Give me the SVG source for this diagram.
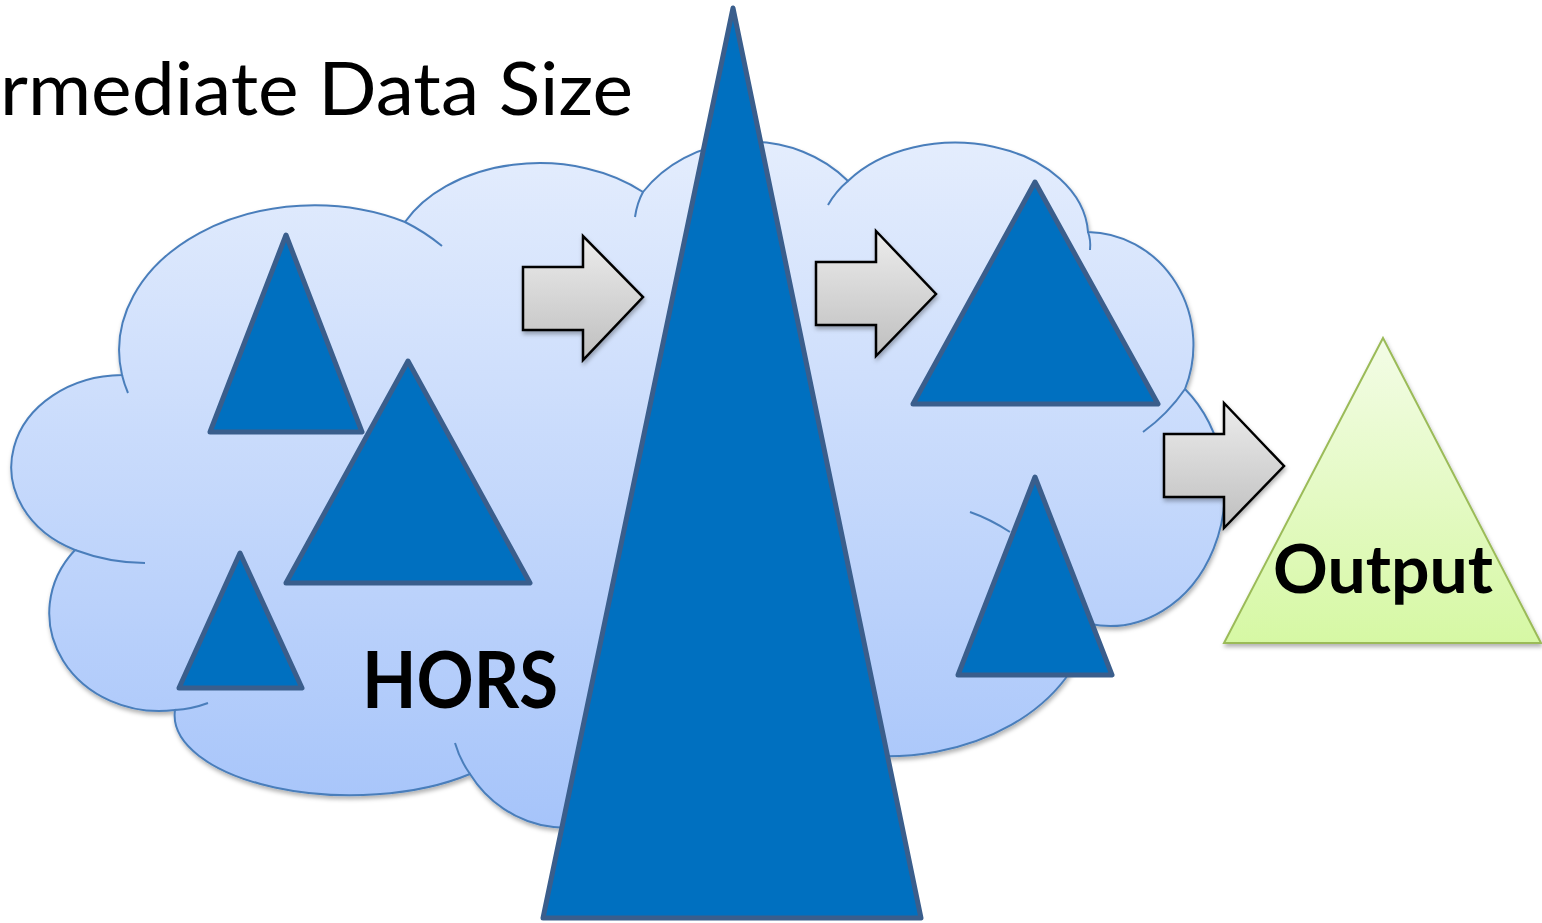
<svg xmlns="http://www.w3.org/2000/svg" width="1542" height="923" viewBox="0 0 1542 923">
<defs>
<linearGradient id="cloudGrad" x1="0" y1="0" x2="0" y2="1">
<stop offset="0" stop-color="#e4edfd"/>
<stop offset="1" stop-color="#a6c4fa"/>
</linearGradient>
<linearGradient id="arrowGrad" x1="0" y1="0" x2="0" y2="1">
<stop offset="0" stop-color="#ececec"/>
<stop offset="1" stop-color="#bfbfbf"/>
</linearGradient>
<linearGradient id="outGrad" x1="0" y1="0" x2="0" y2="1">
<stop offset="0" stop-color="#f3fce6"/>
<stop offset="1" stop-color="#d6f8a4"/>
</linearGradient>
<filter id="shadow" x="-10%" y="-10%" width="120%" height="130%">
<feDropShadow dx="1" dy="3" stdDeviation="2" flood-color="#000" flood-opacity="0.3"/>
</filter>
</defs>
<style>
.cloud{fill:url(#cloudGrad);stroke:#4a7ebb;stroke-width:2}
.hook{fill:none;stroke:#4a7ebb;stroke-width:2}
.tri{fill:#0070c0;stroke:#3a5e8c;stroke-width:5;stroke-linejoin:round}
.arrow{fill:url(#arrowGrad);stroke:#000;stroke-width:2.5;stroke-linejoin:miter}
.out{fill:url(#outGrad);stroke:#9bbb59;stroke-width:2}
.lbl{font-family:Lato,"Open Sans","Liberation Sans",sans-serif;font-weight:bold;fill:#000}
.title{font-family:Lato,"Open Sans","Liberation Sans",sans-serif;fill:#000}
</style>
<rect width="1542" height="923" fill="#fff"/>
<g id="title"><text class="title" x="0" y="115" font-size="74" textLength="633" lengthAdjust="spacingAndGlyphs">rmediate Data Size</text></g>
<g id="cloud">
<path class="cloud" filter="url(#shadow)" d="M 122,375 A 195 145 0 0 1 405,222 A 150 105 0 0 1 643,192 A 132 120 0 0 1 848,181 A 133 94 0 0 1 1088,232 A 107 113 0 0 1 1185,389 A 115 135 0 0 1 1090,624 A 205 153 0 0 1 860,755 L 647,795 A 114 114 0 0 1 470,774 A 176 80 0 0 1 175,710 A 110 98 0 0 1 75,550 A 112 92 0 0 1 122,375 Z"/>
<path class="hook" d="M 128,393 A 195 145 0 0 1 122,375"/>
<path class="hook" d="M 405,222 Q 425,232 442,246"/>
<path class="hook" d="M 643,192 Q 637,203 635,217"/>
<path class="hook" d="M 848,181 Q 836,191 828,205"/>
<path class="hook" d="M 1088,232 Q 1091,240 1090,250"/>
<path class="hook" d="M 1185,389 Q 1168,414 1143,432"/>
<path class="hook" d="M 970,512 Q 990,519 1010,532"/>
<path class="hook" d="M 470,774 Q 460,760 455,743"/>
<path class="hook" d="M 175,710 Q 192,709 208,703"/>
<path class="hook" d="M 75,550 Q 110,563 145,563"/>
</g>
<g id="tri1"><polygon class="tri" points="286,235 362,432 210,432"/></g>
<g id="tri2"><polygon class="tri" points="408,361 530,583 286,583"/></g>
<g id="tri3"><polygon class="tri" points="240,553 302,688 179,688"/></g>
<g id="hors"><text class="lbl" x="460" y="708" font-size="78" text-anchor="middle" textLength="196" lengthAdjust="spacingAndGlyphs">HORS</text></g>
<g id="tri4"><polygon class="tri" points="1035,182 1158,404 913,404"/></g>
<g id="tri5"><polygon class="tri" points="1035,477 1112,675 958,675"/></g>
<g id="bigTri"><polygon class="tri" points="733,8 921,918 543,918"/></g>
<g id="output">
<polygon class="out" filter="url(#shadow)" points="1383,338 1541,643 1224,643"/>
<text class="lbl" x="1383" y="593" font-size="67" text-anchor="middle" textLength="220" lengthAdjust="spacingAndGlyphs">Output</text>
</g>
<g id="connectors">
<path class="arrow" filter="url(#shadow)" d="M 523,267 L 583,267 L 583,236 L 643,297 L 583,360 L 583,330 L 523,330 Z"/>
<path class="arrow" filter="url(#shadow)" d="M 816,262 L 876,262 L 876,231 L 936,294 L 876,356 L 876,325 L 816,325 Z"/>
<path class="arrow" filter="url(#shadow)" d="M 1164,434 L 1224,434 L 1224,403 L 1284,466 L 1224,528 L 1224,497 L 1164,497 Z"/>
</g>
</svg>
